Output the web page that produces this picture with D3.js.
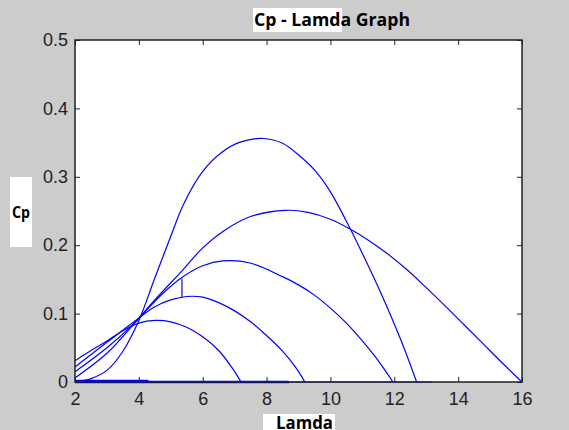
<!DOCTYPE html>
<html>
<head>
<meta charset="utf-8">
<script src="https://cdn.jsdelivr.net/npm/d3@7"></script>
<style>
  body { margin: 0; background: #cccccc; }
  svg { display: block; }
</style>
</head>
<body>
<div id="main"></div>
<script>
// Cp vs tip speed ratio (lamda)
var curve1 = [[2, 0.0], [2.5, 0.005], [3, 0.017], [3.5, 0.045], [4, 0.09], [4.5, 0.152], [5, 0.213],
  [5.4, 0.26], [6, 0.308], [6.6, 0.336], [7.2, 0.351], [7.9, 0.356], [8.5, 0.349], [9.05, 0.33],
  [9.5, 0.31], [10, 0.278], [10.5, 0.235], [11, 0.188], [11.6, 0.128], [12.2, 0.062], [12.7, 0.0]];
var curve2 = [[2, 0.006], [3, 0.042], [3.9, 0.088], [4.5, 0.12], [5.38, 0.164], [6, 0.196], [6.69, 0.222],
  [7.5, 0.242], [8.6, 0.251], [9.3, 0.248], [10, 0.238], [10.6, 0.224], [11.2, 0.207], [11.8, 0.187],
  [12.4, 0.164], [13, 0.138], [13.6, 0.111], [14.2, 0.083], [14.8, 0.055], [15.4, 0.027], [16, 0.0]];
var curve3 = [[2, 0.015], [3, 0.05], [3.9, 0.088], [4.5, 0.118], [5, 0.14], [5.38, 0.154], [6, 0.17],
  [6.64, 0.177], [7.48, 0.174], [8.5, 0.154], [9, 0.142], [9.5, 0.127], [10, 0.108], [10.5, 0.086],
  [11, 0.06], [11.5, 0.031], [11.96, 0.0]];
var curve4 = [[2, 0.022], [3, 0.058], [3.9, 0.09], [4.5, 0.11], [5, 0.12], [5.5, 0.125], [6, 0.124],
  [6.5, 0.116], [7, 0.104], [7.5, 0.088], [8, 0.068], [8.5, 0.045], [8.9, 0.022], [9.2, 0.0]];
var curve5 = [[2, 0.031], [2.5, 0.046], [3, 0.06], [3.5, 0.075], [4, 0.086], [4.5, 0.09], [5, 0.088],
  [5.5, 0.08], [6, 0.066], [6.5, 0.046], [6.9, 0.022], [7.2, 0.0]];
var jump = [[5.35, 0.124], [5.35, 0.151]];
var flat1 = [[2, 0.0], [8.7, 0.0]];
var flat2 = [[2, 0.0], [13.2, 0.0]];
var flat3 = [[2, 0.0025], [4.3, 0.0025]];

var xTicks = [2, 4, 6, 8, 10, 12, 14, 16];
var yTicks = [0, 0.1, 0.2, 0.3, 0.4, 0.5];

var width = 569, height = 430;
var plotLeft = 75, plotRight = 522, plotTop = 40, plotBottom = 382;

var svg = d3.select('#main')
  .append('svg')
  .attr('width', width)
  .attr('height', height)
  .style('font-family', '"Liberation Sans", Arial, sans-serif');

svg.append('rect')
  .attr('width', width)
  .attr('height', height)
  .attr('fill', '#cccccc');

var x = d3.scaleLinear().domain([2, 16]).range([plotLeft, plotRight]);
var y = d3.scaleLinear().domain([0, 0.5]).range([plotBottom, plotTop]);

svg.append('rect')
  .attr('x', plotLeft)
  .attr('y', plotTop)
  .attr('width', plotRight - plotLeft)
  .attr('height', plotBottom - plotTop)
  .attr('fill', '#ffffff');

// curves
var smooth = d3.line()
  .x(function(d) { return x(d[0]); })
  .y(function(d) { return y(d[1]); })
  .curve(d3.curveCatmullRom);

var straight = d3.line()
  .x(function(d) { return x(d[0]); })
  .y(function(d) { return y(d[1]); });

[curve1, curve2, curve3, curve4, curve5].forEach(function(c) {
  svg.append('path')
    .attr('d', smooth(c))
    .attr('fill', 'none')
    .attr('stroke', '#0000ff')
    .attr('stroke-width', 1.2);
});

[jump, flat2, flat3].forEach(function(c) {
  svg.append('path')
    .attr('d', straight(c))
    .attr('fill', 'none')
    .attr('stroke', '#0000ff')
    .attr('stroke-width', 1.2);
});

svg.append('path')
  .attr('d', straight(flat1))
  .attr('fill', 'none')
  .attr('stroke', '#0000ff')
  .attr('stroke-width', 2.5);

// axes, ticks pointing inward
var yFmt = function(d) { return d === 0 ? '0' : d3.format('.1f')(d); };

var gx = svg.append('g')
  .attr('transform', 'translate(0,' + plotBottom + ')')
  .call(d3.axisBottom(x).tickValues(xTicks).tickSize(-5).tickPadding(10));
var gy = svg.append('g')
  .attr('transform', 'translate(' + plotLeft + ',0)')
  .call(d3.axisLeft(y).tickValues(yTicks).tickFormat(yFmt).tickSize(-5).tickPadding(7));
var gt = svg.append('g')
  .attr('transform', 'translate(0,' + plotTop + ')')
  .call(d3.axisTop(x).tickValues(xTicks).tickFormat('').tickSize(-5));
var gr = svg.append('g')
  .attr('transform', 'translate(' + plotRight + ',0)')
  .call(d3.axisRight(y).tickValues(yTicks).tickFormat('').tickSize(-5));

[gx, gy, gt, gr].forEach(function(g) {
  g.select('.domain').remove();
  g.selectAll('line').attr('stroke', '#222');
  g.selectAll('text')
    .attr('fill', '#222')
    .style('font-size', '18px')
    .style('font-family', '"Liberation Sans", Arial, sans-serif');
});

svg.append('rect')
  .attr('x', plotLeft)
  .attr('y', plotTop)
  .attr('width', plotRight - plotLeft)
  .attr('height', plotBottom - plotTop)
  .attr('fill', 'none')
  .attr('stroke', '#222')
  .attr('stroke-width', 1.5);

// title and labels with their white boxes
svg.append('rect').attr('x', 253).attr('y', 8).attr('width', 89).attr('height', 24).attr('fill', '#fff');
svg.append('text')
  .attr('x', 254)
  .attr('y', 26)
  .style('font-family', '"Open Sans", sans-serif')
  .style('font-weight', 'bold')
  .style('font-size', '17px')
  .attr('textLength', 156)
  .attr('lengthAdjust', 'spacingAndGlyphs')
  .text('Cp - Lamda Graph');

svg.append('rect').attr('x', 10).attr('y', 177).attr('width', 22).attr('height', 70).attr('fill', '#fff');
svg.append('text')
  .attr('x', 12)
  .attr('y', 218)
  .style('font-family', '"Open Sans", sans-serif')
  .style('font-weight', 'bold')
  .style('font-size', '16px')
  .attr('textLength', 18)
  .attr('lengthAdjust', 'spacingAndGlyphs')
  .text('Cp');

svg.append('rect').attr('x', 263).attr('y', 414).attr('width', 72).attr('height', 16).attr('fill', '#fff');
svg.append('text')
  .attr('x', 276)
  .attr('y', 429)
  .style('font-family', '"Open Sans", sans-serif')
  .style('font-weight', 'bold')
  .style('font-size', '17px')
  .attr('textLength', 57)
  .attr('lengthAdjust', 'spacingAndGlyphs')
  .text('Lamda');
</script>
</body>
</html>
